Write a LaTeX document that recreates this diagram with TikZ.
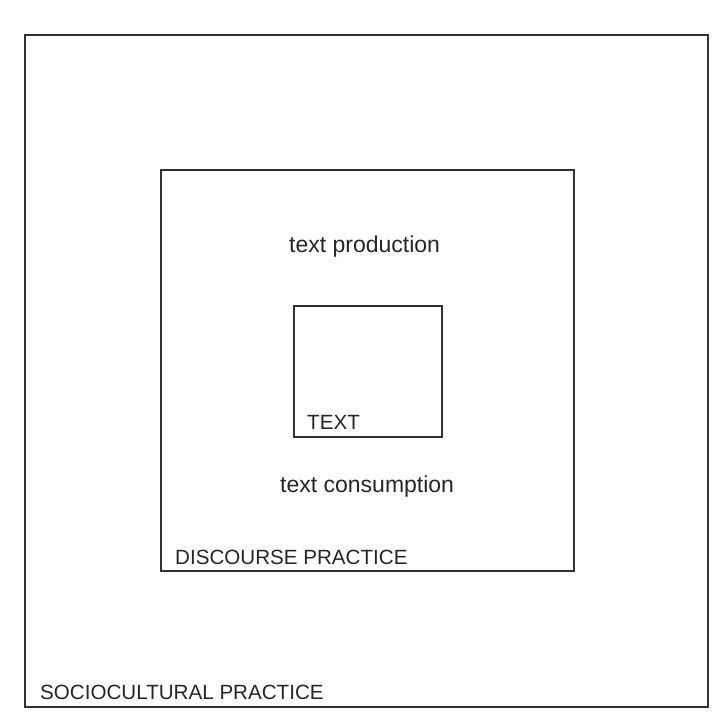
\documentclass[tikz,border=0pt]{standalone}
\usepackage{fontspec}
\setmainfont{Liberation Sans}
\begin{document}
\begin{tikzpicture}[x=1pt,y=-1pt,
  box/.style={draw=black!80,line width=1.2pt,inner sep=0pt,outer sep=0pt},
  caplabel/.style={anchor=base west,inner sep=0pt,text=black!85,font=\fontsize{20.6}{24}\selectfont},
  lowlabel/.style={anchor=base west,inner sep=0pt,text=black!85,font=\fontsize{23}{27}\selectfont}]
\useasboundingbox (0,0) rectangle (715,713);
\node[box,minimum width=683pt,minimum height=672pt] (socio) at (366.5,371) {};
\node[box,minimum width=413pt,minimum height=401pt] (discourse) at (367.5,370.5) {};
\node[box,minimum width=148pt,minimum height=131pt] (text) at (368,371.5) {};
\node[caplabel] (sociolabel) at (40,699) {SOCIOCULTURAL PRACTICE};
\node[caplabel] (discourselabel) at (175,564) {DISCOURSE PRACTICE};
\node[caplabel] (textlabel) at (307,429) {TEXT};
\node[lowlabel] (production) at (289,252) {text production};
\node[lowlabel] (consumption) at (280,492) {text consumption};
\end{tikzpicture}
\end{document}
